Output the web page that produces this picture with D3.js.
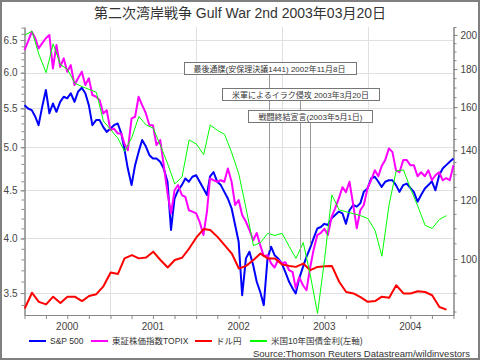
<!DOCTYPE html>
<html>
<head>
<meta charset="utf-8">
<script src="https://cdn.jsdelivr.net/npm/d3@7"></script>
<style>
  body { margin: 0; background: #fff; }
  svg { display: block; }
</style>
</head>
<body>
<div id="chart"></div>
<script>
// S&P 500 and TOPIX, sampled on the 1st and 16th of each month (right axis)
const spx = [161.0,159.3,158.5,155.3,151.3,160.0,168.7,157.0,161.8,157.7,
  162.6,165.2,164.4,167.0,162.6,167.8,169.9,167.0,161.0,151.3,
  153.7,153.7,150.5,148.2,149.7,151.3,152.1,147.5,140.8,132.3,
  125.7,133.7,139.3,144.5,141.6,137.9,136.5,136.5,135.1,132.3,
  127.0,109.4,120.6,123.7,125.7,128.3,127.0,129.0,129.6,127.0,
  124.4,121.9,129.0,130.9,127.0,125.7,123.1,120.6,117.0,111.1,
  105.5,89.4,100.2,102.3,98.1,93.2,90.3,86.7,100.2,103.9,
  101.2,100.2,98.6,96.0,93.2,91.3,89.9,94.2,97.6,100.7,
  103.4,106.6,109.9,110.4,111.5,111.1,113.4,114.6,115.8,115.2,
  111.5,116.3,118.2,117.6,118.8,123.1,124.4,128.3,129.0,127.0,
  125.0,127.0,127.6,127.6,125.7,123.1,125.7,126.3,124.6,123.1,
  119.4,121.9,124.4,125.7,127.2,123.7,129.6,132.3,133.7,135.1,
  136.5];

const topix = [190.9,195.9,202.1,198.0,191.9,194.9,198.0,200.0,180.3,193.9,
  181.2,186.1,178.5,182.2,171.3,174.9,178.5,171.3,174.9,166.1,
  165.2,163.5,156.9,158.5,149.0,149.7,147.5,147.5,143.0,140.0,
  154.5,155.3,165.2,161.0,156.9,151.3,151.3,142.3,144.5,133.7,
  122.6,115.2,123.7,125.7,121.9,121.2,116.3,115.8,115.2,112.2,
  107.7,115.8,128.3,127.6,127.0,127.6,127.0,132.3,127.0,118.2,
  120.0,114.6,112.2,109.4,106.0,108.4,104.4,100.9,101.2,98.7,
  97.4,99.7,98.7,99.0,96.6,96.0,91.4,94.5,92.2,90.8,
  97.2,102.8,107.7,108.4,109.8,107.7,113.9,117.0,120.7,124.9,
  123.0,127.0,118.2,110.0,116.3,118.2,124.5,127.6,131.6,129.2,
  133.3,135.8,140.8,139.2,131.6,130.8,135.8,135.8,133.7,133.7,
  129.2,130.8,129.2,131.6,127.6,129.6,130.8,127.6,128.4,127.6,
  133.7];

// monthly averages, Jan 2000 .. Dec 2004
const usdjpy = [85.8,90.1,87.6,86.9,89.0,87.3,89.0,89.0,87.8,89.2,
  89.7,91.9,95.9,95.5,100.2,101.2,100.2,100.5,102.3,99.7,
  97.4,99.7,100.4,103.3,106.9,109.7,109.4,107.1,104.4,101.7,
  97.1,97.9,99.7,101.7,100.2,100.2,98.3,97.9,97.6,98.6,
  96.6,97.6,97.8,97.9,93.2,90.3,89.9,88.9,87.6,87.8,
  89.0,88.7,92.2,89.9,89.9,90.5,90.3,89.4,86.2,85.5];

const us10y = [6.58,6.64,6.28,6.00,6.44,6.12,6.05,5.85,5.80,5.76,
  5.72,5.33,5.22,5.11,4.95,5.12,5.39,5.28,5.24,5.02,
  4.80,4.57,4.65,5.09,5.04,4.91,5.28,5.21,5.16,4.93,
  4.68,4.30,3.93,3.96,4.05,4.03,4.05,3.92,3.81,3.96,
  3.66,3.33,3.80,4.45,4.29,4.27,4.25,4.23,4.20,4.08,
  3.83,4.35,4.72,4.73,4.52,4.33,4.13,4.10,4.19,4.23];

const leftTicks = [3.5, 4.0, 4.5, 5.0, 5.5, 6.0, 6.5];
const rightTicks = [100, 120, 140, 160, 180, 200];
const years = [2000, 2001, 2002, 2003, 2004];

const events = [
  { date: '2002-11-08', label: '最後通牒(安保理決議1441) 2002年11月8日', end: 102.8 },
  { date: '2003-03-20', label: '米軍によるイラク侵攻 2003年3月20日', end: 99.7 },
  { date: '2003-05-01', label: '戦闘終結宣言(2003年5月1日)', end: 104.4 }
];

const series = [
  { name: 'S&P 500', color: '#0000ff', width: 2 },
  { name: '東証株価指数TOPIX', color: '#ff00ff', width: 2 },
  { name: 'ドル円', color: '#ff0000', width: 2 },
  { name: '米国10年国債金利(左軸)', color: '#00ff00', width: 1 }
];

const W = 480, H = 360;
const plotLeft = 24.5, plotRight = 453.5, plotTop = 27, plotBottom = 315;

const svg = d3.select('#chart').append('svg')
  .attr('width', W)
  .attr('height', H)
  .style('font-family', '"Liberation Sans", "Noto Sans CJK JP", sans-serif');

svg.append('rect')
  .attr('x', 1).attr('y', 1)
  .attr('width', W - 2).attr('height', H - 2)
  .attr('fill', '#fff')
  .attr('stroke', '#808080')
  .attr('stroke-width', 2);

svg.append('text')
  .attr('x', W / 2).attr('y', 18)
  .attr('text-anchor', 'middle')
  .attr('font-size', 14)
  .attr('fill', '#333')
  .text('第二次湾岸戦争 Gulf War 2nd 2003年03月20日');

const halfMonth = i => new Date(2000, Math.floor(i / 2), i % 2 ? 16 : 1);
const month = m => new Date(2000, m, 2);

const x = d3.scaleTime()
  .domain([new Date(2000, 0, 1), new Date(2005, 0, 1)])
  .range([plotLeft, plotRight]);
const yL = d3.scaleLog().domain([3.317, 6.71]).range([plotBottom, plotTop]);
const yR = d3.scaleLog().domain([84.1, 205]).range([plotBottom, plotTop]);

// grid
const grid = svg.append('g').attr('stroke', '#e0e0e0').attr('stroke-width', 1);
grid.selectAll('.h')
  .data(leftTicks)
  .enter().append('line')
  .attr('x1', plotLeft).attr('x2', plotRight)
  .attr('y1', d => Math.round(yL(d)) + 0.5)
  .attr('y2', d => Math.round(yL(d)) + 0.5);
grid.selectAll('.v')
  .data(years.slice(1))
  .enter().append('line')
  .attr('x1', d => Math.round(x(new Date(d, 0, 1))) + 0.5)
  .attr('x2', d => Math.round(x(new Date(d, 0, 1))) + 0.5)
  .attr('y1', plotTop).attr('y2', plotBottom);

// axes
function styleAxis(g) {
  g.select('.domain').attr('stroke', '#888');
  g.selectAll('.tick line').attr('stroke', '#888');
  g.selectAll('.tick text').attr('fill', '#444').attr('font-size', 10)
    .attr('font-family', '"Liberation Sans", sans-serif');
}

svg.append('g')
  .attr('transform', `translate(${plotLeft},0)`)
  .call(d3.axisLeft(yL).tickValues(d3.range(34, 68).map(d => d / 10)).tickSize(3).tickSizeOuter(0).tickFormat(''))
  .call(styleAxis);
svg.append('g')
  .attr('transform', `translate(${plotLeft},0)`)
  .call(d3.axisLeft(yL).tickValues(leftTicks).tickSize(4).tickSizeOuter(0).tickPadding(3).tickFormat(d3.format('.1f')))
  .call(styleAxis);

svg.append('g')
  .attr('transform', `translate(${plotRight},0)`)
  .call(d3.axisRight(yR).tickValues(d3.range(85, 206, 5)).tickSize(3).tickSizeOuter(0).tickFormat(''))
  .call(styleAxis);
svg.append('g')
  .attr('transform', `translate(${plotRight},0)`)
  .call(d3.axisRight(yR).tickValues(rightTicks).tickSize(4).tickSizeOuter(0).tickPadding(3))
  .call(styleAxis);

svg.append('g')
  .attr('transform', `translate(0,${plotBottom})`)
  .call(d3.axisBottom(x).ticks(d3.timeMonth.every(3)).tickSize(4).tickSizeOuter(0).tickFormat(''))
  .call(styleAxis);

svg.append('g')
  .selectAll('text')
  .data(years)
  .enter().append('text')
  .attr('x', d => x(new Date(d, 6, 1)))
  .attr('y', 330)
  .attr('text-anchor', 'middle')
  .attr('font-size', 10)
  .attr('fill', '#444')
  .text(d => d);

// lines
const plot = svg.append('g');
const lineR = d3.line().x(d => x(d[0])).y(d => yR(d[1]));
const lineL = d3.line().x(d => x(d[0])).y(d => yL(d[1]));

const lineData = [
  spx.map((v, i) => [halfMonth(i), v]),
  topix.map((v, i) => [halfMonth(i), v]),
  usdjpy.map((v, i) => [month(i), v]),
  us10y.map((v, i) => [month(i), v])
];

lineData.forEach((data, k) => {
  plot.append('path')
    .datum(data)
    .attr('fill', 'none')
    .attr('stroke', series[k].color)
    .attr('stroke-width', series[k].width)
    .attr('stroke-linejoin', 'round')
    .attr('d', k === 3 ? lineL : lineR);
});

// event annotations
const boxTops = [62, 88, 110];
const parse = d3.timeParse('%Y-%m-%d');
const ann = svg.append('g');
events.forEach((e, i) => {
  const ex = Math.round(x(parse(e.date))) + 0.5;
  const g = ann.append('g');
  g.append('line')
    .attr('x1', ex).attr('x2', ex)
    .attr('y1', boxTops[i] + 12.5)
    .attr('y2', yR(e.end))
    .attr('stroke', '#999');
  const rect = g.append('rect');
  const t = g.append('text')
    .attr('x', ex).attr('y', boxTops[i] + 9.5)
    .attr('text-anchor', 'middle')
    .attr('font-size', 8)
    .attr('fill', '#333')
    .text(e.label);
  const w = t.node().getComputedTextLength() + 20;
  rect.attr('x', Math.round(ex - w / 2) + 0.5).attr('y', boxTops[i] + 0.5)
    .attr('width', Math.round(w)).attr('height', 12)
    .attr('fill', '#fff')
    .attr('stroke', '#777');
});

// legend
const legendX = [29, 91, 195, 250];
const legend = svg.append('g');
series.forEach((s, i) => {
  legend.append('line')
    .attr('x1', legendX[i]).attr('x2', legendX[i] + 17)
    .attr('y1', 341).attr('y2', 341)
    .attr('stroke', s.color)
    .attr('stroke-width', 2);
  legend.append('text')
    .attr('x', legendX[i] + 21).attr('y', 344)
    .attr('font-size', 8.5)
    .attr('fill', '#333')
    .text(s.name);
});

svg.append('text')
  .attr('x', 470).attr('y', 357)
  .attr('text-anchor', 'end')
  .attr('font-size', 9.5)
  .attr('fill', '#333')
  .text('Source:Thomson Reuters Datastream/wildinvestors');
</script>
</body>
</html>
